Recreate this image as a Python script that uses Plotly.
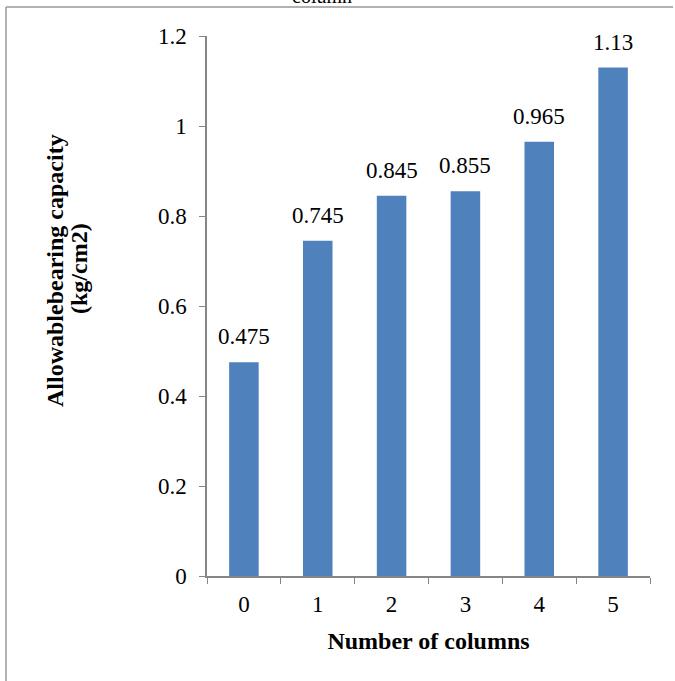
import plotly.graph_objects as go

categories = ["0", "1", "2", "3", "4", "5"]
values = [0.475, 0.745, 0.845, 0.855, 0.965, 1.13]
value_labels = ["0.475", "0.745", "0.845", "0.855", "0.965", "1.13"]
y_ticks = [0, 0.2, 0.4, 0.6, 0.8, 1, 1.2]
y_tick_labels = ["0", "0.2", "0.4", "0.6", "0.8", "1", "1.2"]

FONT = "Liberation Serif"
AXIS = "#868686"
FS = 23

W, H = 675, 681
L, R, T, B = 207, 25, 36, 105
pw, ph = W - L - R, H - T - B

def px_x(p):
    return (p - L) / pw

def px_y(p):
    return (H - B - p) / ph

fig = go.Figure(go.Bar(
    x=categories, y=values, width=0.4,
    marker=dict(color="#4F81BD", line=dict(width=0)),
    hoverinfo="skip",
))

label_annotations = [
    dict(x=c, y=v, text=t, xref="x", yref="y", showarrow=False,
         xanchor="center", yanchor="bottom", yshift=11,
         font=dict(family=FONT, size=FS, color="black"))
    for c, v, t in zip(categories, values, value_labels)
]

fig.update_layout(
    width=W, height=H,
    margin=dict(l=L, r=R, t=T, b=B),
    paper_bgcolor="white", plot_bgcolor="white",
    showlegend=False,
    font=dict(family=FONT, color="black"),
    xaxis=dict(
        type="category", showgrid=False, zeroline=False,
        showline=True, linecolor=AXIS, linewidth=1.5,
        ticks="outside", tickson="boundaries", ticklen=6, tickcolor=AXIS,
        tickfont=dict(family=FONT, size=FS),
        ticklabelstandoff=7,
        title=dict(text="<b>Number of columns</b>", font=dict(family=FONT, size=24), standoff=16),
    ),
    yaxis=dict(
        range=[0, 1.2], tickvals=y_ticks, ticktext=y_tick_labels,
        showgrid=False, zeroline=False,
        showline=True, linecolor=AXIS, linewidth=1.5,
        ticks="outside", ticklen=6, tickcolor=AXIS,
        tickfont=dict(family=FONT, size=FS),
        ticklabelstandoff=8,
        title=None,
    ),
    annotations=label_annotations + [
        dict(text="<b>Allowablebearing capacity</b>", textangle=-90,
             xref="paper", yref="paper", x=px_x(55), y=px_y(271),
             xanchor="center", yanchor="middle", showarrow=False,
             font=dict(family=FONT, size=24)),
        dict(text="<b>(kg/cm2)</b>", textangle=-90,
             xref="paper", yref="paper", x=px_x(79), y=px_y(269),
             xanchor="center", yanchor="middle", showarrow=False,
             font=dict(family=FONT, size=24)),
        dict(text="column", xref="paper", yref="paper", x=px_x(322), y=px_y(9),
             xanchor="center", yanchor="bottom", showarrow=False,
             font=dict(family=FONT, size=20)),
    ],
    shapes=[
        dict(type="line", xref="paper", yref="paper", x0=px_x(6), x1=px_x(673),
             y0=px_y(7), y1=px_y(7), line=dict(color="#999999", width=1.5)),
        dict(type="line", xref="paper", yref="paper", x0=px_x(6), x1=px_x(6),
             y0=px_y(7), y1=px_y(690), line=dict(color="#999999", width=1.5)),
    ],
)

fig.write_html("out.html", config={"displayModeBar": False},
               post_script="document.body.style.margin='0';")
